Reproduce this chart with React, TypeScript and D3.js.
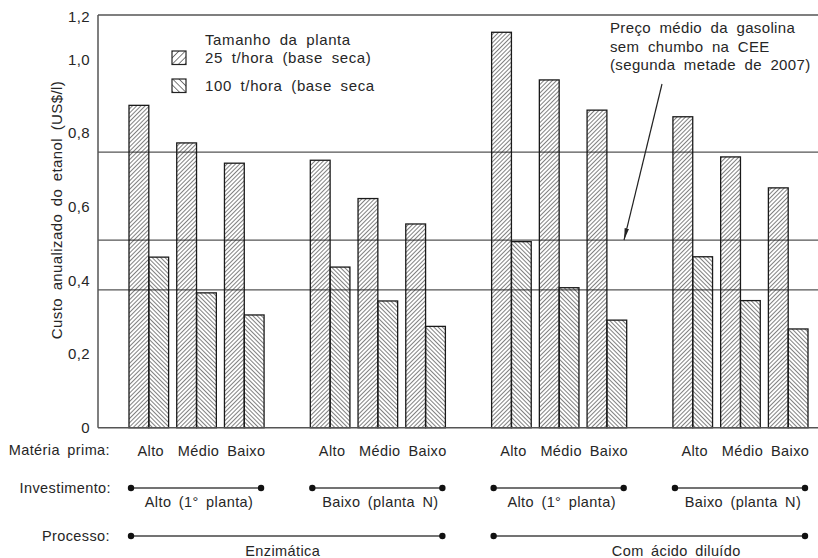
import React from 'react';
import * as d3 from 'd3';

const groups = ['enz-alto', 'enz-baixo', 'acido-alto', 'acido-baixo'];
const feedstock = ['Alto', 'Médio', 'Baixo'];
const seriesNames = ['25 t/hora (base seca)', '100 t/hora (base seca'];
// custo (US$/l) por grupo, na ordem Alto, Médio, Baixo
const cost25 = [
  [0.875, 0.773, 0.718],
  [0.726, 0.622, 0.553],
  [1.122, 0.944, 0.862],
  [0.844, 0.735, 0.651],
];
const cost100 = [
  [0.463, 0.366, 0.306],
  [0.436, 0.344, 0.275],
  [0.505, 0.38, 0.292],
  [0.464, 0.345, 0.268],
];
const investment = ['Alto (1° planta)', 'Baixo (planta N)', 'Alto (1° planta)', 'Baixo (planta N)'];
const processes = [
  { label: 'Enzimática', from: 0, to: 1 },
  { label: 'Com ácido diluído', from: 2, to: 3 },
];
const yTicks = [0, 0.2, 0.4, 0.6, 0.8, 1.0, 1.2];
const refLines = [0.748, 0.509, 0.374];
const gasPrice = 0.509;
const noteLines = ['Preço médio da gasolina', 'sem chumbo na CEE', '(segunda metade de 2007)'];

const W = 818;
const H = 558;
const left = 98;
const font = '"Liberation Sans", Arial, sans-serif';
const ink = '#262626';

export default function App() {
  // the original axis is not evenly spaced above 1,0
  const y = d3.scaleLinear().domain([0, 1.0, 1.2]).range([427.7, 59.3, 15]);
  const x0 = d3.scaleBand().domain(groups).range([129, 808]).paddingInner(0.255);
  const x1 = d3.scaleBand().domain(feedstock).range([0, x0.bandwidth()]).paddingInner(0.17);
  const x2 = d3.scaleBand().domain(seriesNames).range([0, x1.bandwidth()]);

  const fmt = (v: number) => (v === 0 ? '0' : v.toFixed(1).replace('.', ','));
  const txt = { fontFamily: font, fill: ink, letterSpacing: 0.4, wordSpacing: 3 } as const;

  const bars: { x: number; v: number; s: number }[] = [];
  groups.forEach((g, gi) => {
    feedstock.forEach((f, fi) => {
      [cost25, cost100].forEach((arr, si) => {
        bars.push({ x: x0(g)! + x1(f)! + x2(seriesNames[si])!, v: arr[gi][fi], s: si });
      });
    });
  });

  const invY = 488;
  const procY = 536;

  return (
    <svg width={W} height={H} style={{ position: 'absolute', left: 0, top: 0, background: '#fff' }}>
      <defs>
        <pattern id="h25" width="3" height="3" patternUnits="userSpaceOnUse" patternTransform="rotate(45)">
          <line x1="0" y1="0" x2="0" y2="3" stroke="#222" strokeWidth="1.15" />
        </pattern>
        <pattern id="h100" width="3" height="3" patternUnits="userSpaceOnUse" patternTransform="rotate(-45)">
          <line x1="0" y1="0" x2="0" y2="3" stroke="#222" strokeWidth="1.15" />
        </pattern>
        <pattern id="l25" width="4.5" height="4.5" patternUnits="userSpaceOnUse" patternTransform="rotate(45)">
          <line x1="0" y1="0" x2="0" y2="4.5" stroke="#222" strokeWidth="1.2" />
        </pattern>
        <pattern id="l100" width="4.5" height="4.5" patternUnits="userSpaceOnUse" patternTransform="rotate(-45)">
          <line x1="0" y1="0" x2="0" y2="4.5" stroke="#222" strokeWidth="1.2" />
        </pattern>
        <marker id="arr" viewBox="0 0 12 6" refX="12" refY="3" markerWidth="12" markerHeight="6" orient="auto" markerUnits="userSpaceOnUse">
          <path d="M0,0.8 L12,3 L0,5.2 Z" fill="#222" />
        </marker>
      </defs>

      {/* frame */}
      <line x1={left} x2={W} y1={y(1.2)} y2={y(1.2)} stroke="#555" strokeWidth={1.5} />
      <line x1={left} x2={left} y1={y(1.2)} y2={y(0)} stroke="#555" strokeWidth={1.5} />

      {refLines.map((v) => (
        <line key={v} x1={left} x2={W} y1={y(v)} y2={y(v)} stroke="#555" strokeWidth={1.3} />
      ))}

      {bars.map((b, i) => (
        <rect
          key={i}
          x={b.x}
          y={y(b.v)}
          width={x2.bandwidth()}
          height={y(0) - y(b.v)}
          fill={b.s === 0 ? 'url(#h25)' : 'url(#h100)'}
          stroke="#1a1a1a"
          strokeWidth={1.3}
        />
      ))}

      <line x1={left} x2={W} y1={y(0)} y2={y(0)} stroke="#555" strokeWidth={1.5} />

      {/* y ticks */}
      {yTicks.map((t) => (
        <text key={t} x={90} y={y(t) + (t === 1.2 ? 2 : 0)} dy="0.35em" textAnchor="end" fontSize={15} {...txt}>
          {fmt(t)}
        </text>
      ))}
      <text transform={`translate(62,210) rotate(-90)`} textAnchor="middle" fontSize={15} {...txt}>
        Custo anualizado do etanol (US$/l)
      </text>

      {/* legend */}
      <text x={205} y={45} fontSize={15} {...txt} letterSpacing={0.6} wordSpacing={4}>
        Tamanho da planta
      </text>
      {seriesNames.map((s, i) => (
        <g key={s} transform={`translate(172,${51 + i * 28})`}>
          <rect width={14} height={13.5} fill={i === 0 ? 'url(#l25)' : 'url(#l100)'} stroke="#222" strokeWidth={1.2} />
          <text x={33} y={7} dy="0.35em" fontSize={15} {...txt} letterSpacing={0.6} wordSpacing={4}>
            {s}
          </text>
        </g>
      ))}

      {/* annotation */}
      {noteLines.map((l, i) => (
        <text key={l} x={610} y={33 + i * 18.5} fontSize={15} {...txt} letterSpacing={0.35} wordSpacing={4}>
          {l}
        </text>
      ))}
      <line x1={662} y1={84} x2={624} y2={y(gasPrice)} stroke="#222" strokeWidth={1.2} markerEnd="url(#arr)" />

      {/* Matéria prima row */}
      <text x={110} y={455} textAnchor="end" fontSize={14.5} {...txt}>
        Matéria prima:
      </text>
      {groups.map((g) =>
        feedstock.map((f) => (
          <text key={g + f} x={x0(g)! + x1(f)! + x1.bandwidth() / 2 + 2} y={456} textAnchor="middle" fontSize={14.5} {...txt}>
            {f}
          </text>
        ))
      )}

      {/* Investimento row */}
      <text x={111} y={invY} dy="0.35em" textAnchor="end" fontSize={14.5} {...txt}>
        Investimento:
      </text>
      {groups.map((g, gi) => {
        const a = x0(g)! + 2;
        const b = x0(g)! + x0.bandwidth() - 3;
        return (
          <g key={g}>
            <line x1={a} x2={b} y1={invY} y2={invY} stroke="#444" strokeWidth={1.3} />
            <circle cx={a} cy={invY} r={3.2} fill="#111" />
            <circle cx={b} cy={invY} r={3.2} fill="#111" />
            <text x={(a + b) / 2 + 3} y={507} textAnchor="middle" fontSize={14.5} {...txt}>
              {investment[gi]}
            </text>
          </g>
        );
      })}

      {/* Processo row */}
      <text x={110} y={procY} dy="0.35em" textAnchor="end" fontSize={14.5} {...txt}>
        Processo:
      </text>
      {processes.map((p, pi) => {
        const a = x0(groups[p.from])! + 2;
        const b = x0(groups[p.to])! + x0.bandwidth() - 3;
        const dx = pi === 1 ? 27 : -4;
        return (
          <g key={p.label}>
            <line x1={a} x2={b} y1={procY} y2={procY} stroke="#444" strokeWidth={1.3} />
            <circle cx={a} cy={procY} r={3.2} fill="#111" />
            <circle cx={b} cy={procY} r={3.2} fill="#111" />
            <text x={(a + b) / 2 + dx} y={556} textAnchor="middle" fontSize={14.5} {...txt}>
              {p.label}
            </text>
          </g>
        );
      })}
    </svg>
  );
}
